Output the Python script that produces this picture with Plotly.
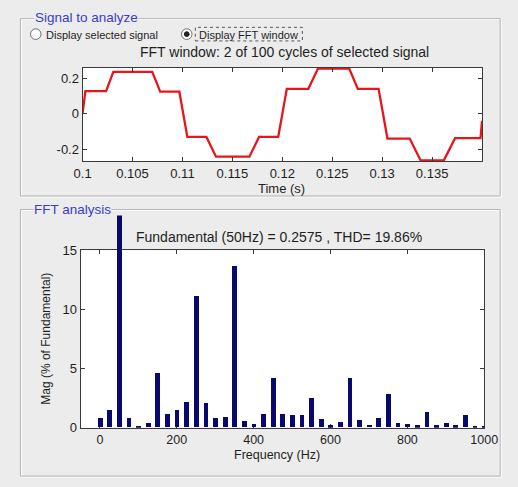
import plotly.graph_objects as go

W, H = 518, 487

# ---------------- data ----------------
# FFT window signal: breakpoints (time in s, value)
sig_time = [0.1000, 0.10028, 0.10235, 0.10308, 0.10698, 0.10777, 0.10969, 0.11049,
            0.11240, 0.11336, 0.11671, 0.11767, 0.11959, 0.12045, 0.12261, 0.12357,
            0.12670, 0.12756, 0.12964, 0.13053, 0.13276, 0.13385, 0.13618, 0.13730,
            0.13985, 0.14000]
sig_value = [0.000, 0.127, 0.127, 0.236, 0.236, 0.124, 0.124, -0.131,
             -0.131, -0.242, -0.242, -0.131, -0.131, 0.140, 0.140, 0.254,
             0.254, 0.140, 0.140, -0.140, -0.140, -0.263, -0.263, -0.138,
             -0.138, -0.040]

# FFT spectrum: harmonic frequency (Hz) and magnitude (% of fundamental)
freq_hz = [0, 25, 50, 75, 100, 125, 150, 175, 200, 225, 250, 275, 300, 325, 350,
           375, 400, 425, 450, 475, 500, 525, 550, 575, 600, 625, 650, 675, 700,
           725, 750, 775, 800, 825, 850, 875, 900, 925, 950, 975, 1000]
mag_pct = [0.76, 1.49, 100.0, 0.76, 0.08, 0.35, 4.54, 1.16, 1.43, 2.10, 11.08, 2.03,
           0.76, 0.89, 13.60, 0.54, 0.27, 1.16, 4.19, 1.16, 1.00, 1.05, 2.51, 0.68,
           0.15, 0.41, 4.19, 0.62, 0.22, 0.76, 2.84, 0.35, 0.27, 0.16, 1.30, 0.16,
           0.35, 0.16, 1.00, 0.08, 0.05]

top_xticks = [0.1, 0.105, 0.11, 0.115, 0.12, 0.125, 0.13, 0.135]
top_xticklabels = ["0.1", "0.105", "0.11", "0.115", "0.12", "0.125", "0.13", "0.135"]
top_yticks = [-0.2, 0, 0.2]
top_yticklabels = ["-0.2", "0", "0.2"]
bot_xticks = [0, 200, 400, 600, 800, 1000]
bot_yticks = [0, 5, 10, 15]

title_top = "FFT window: 2 of 100 cycles of selected signal"
title_bot = "Fundamental (50Hz) = 0.2575 , THD= 19.86%"

# ---------------- helpers ----------------
def px(x):
    return x / W

def py(y):
    return 1 - y / H

FONT = "Liberation Sans, Arial, sans-serif"
BG = "#ececec"
AX = "#3a3a3a"
TXT = "#1e1e1e"
PANEL_TITLE = "#3b3bc8"

fig = go.Figure()

fig.add_trace(go.Scatter(
    x=sig_time, y=sig_value, mode="lines",
    line=dict(color="#e8151b", width=2.3),
    xaxis="x", yaxis="y", hoverinfo="skip", showlegend=False))

# empty trace so the visible bottom axes (x2/y2) form a subplot
fig.add_trace(go.Scatter(x=[None], y=[None], mode="markers",
                         xaxis="x2", yaxis="y2", hoverinfo="skip", showlegend=False))

fig.add_trace(go.Bar(
    x=freq_hz, y=mag_pct, width=12.5,
    marker=dict(color="#08086e", line=dict(width=0)),
    xaxis="x2", yaxis="y3", hoverinfo="skip", showlegend=False))

def axis_style(size):
    return dict(showline=True, linecolor=AX, linewidth=1, mirror="ticks",
                ticks="inside", ticklen=4, tickcolor=AX, showgrid=False,
                zeroline=False, tickfont=dict(family=FONT, size=size, color=TXT),
                fixedrange=True)

# axes geometry (pixels)
top_l, top_r, top_t, top_b = 77, 495, 63, 159
bot_l, bot_r, bot_t, bot_b = 75, 497.3, 250.7, 434
bar_clip_top = 215
y_max = 15
y3_max = y_max * (bot_b - bar_clip_top) / (bot_b - bot_t)

fig.update_layout(
    width=W, height=H,
    margin=dict(l=0, r=0, t=0, b=0),
    paper_bgcolor=BG, plot_bgcolor="rgba(0,0,0,0)",
    font=dict(family=FONT, size=13, color=TXT),
    bargap=0,
    xaxis=dict(domain=[px(top_l), px(top_r)], anchor="y", range=[0.1, 0.14],
               tickvals=top_xticks, ticktext=top_xticklabels, **axis_style(13)),
    yaxis=dict(domain=[py(top_b), py(top_t)], anchor="x", range=[-0.267, 0.257],
               tickvals=top_yticks, ticktext=top_yticklabels, **axis_style(13)),
    xaxis2=dict(domain=[px(bot_l), px(bot_r)], anchor="y2", range=[-50, 1000],
                tickvals=bot_xticks, **axis_style(12.5)),
    yaxis2=dict(domain=[py(bot_b), py(bot_t)], anchor="x2", range=[0, y_max],
                tickvals=bot_yticks, **axis_style(13)),
    yaxis3=dict(domain=[py(bot_b), py(bar_clip_top)], anchor="x2", range=[0, y3_max],
                visible=False, fixedrange=True),
)

shapes = []
# white plotting areas
for xr, yr in (("x", "y"), ("x2", "y2")):
    shapes.append(dict(type="rect", xref=f"{xr} domain", yref=f"{yr} domain",
                       x0=0, x1=1, y0=0, y1=1, fillcolor="white",
                       line=dict(width=0), layer="below"))

# etched panel frames
def frame(x0, y0, x1, y1):
    for off, col in ((1, "#ffffff"), (0, "#b4b4b4")):
        shapes.append(dict(type="rect", xref="paper", yref="paper",
                           x0=px(x0 + off), x1=px(x1 + off),
                           y0=py(y1 + off), y1=py(y0 + off),
                           line=dict(color=col, width=1), fillcolor="rgba(0,0,0,0)",
                           layer="below"))

frame(12, 12, 514, 195)
frame(12, 209, 514, 484)

# radio buttons
def circle(cx, cy, r, fill, line_col):
    shapes.append(dict(type="circle", xref="paper", yref="paper",
                       x0=px(cx - r), x1=px(cx + r), y0=py(cy + r), y1=py(cy - r),
                       fillcolor=fill, line=dict(color=line_col, width=1)))

circle(28, 28, 5.5, "white", "#6e6e6e")
circle(186, 28, 5.5, "white", "#6e6e6e")
circle(186, 28, 2.5, "#202020", "#202020")
# focus rectangle around selected option
shapes.append(dict(type="rect", xref="paper", yref="paper",
                   x0=px(195), x1=px(307), y0=py(35), y1=py(21),
                   line=dict(color="#555555", width=1, dash="dot")))

fig.update_layout(shapes=shapes)

def ann(text, x, y, size=13, color=TXT, xanchor="center", angle=0, bg=None):
    d = dict(text=text, x=px(x), y=py(y), xref="paper", yref="paper",
             xanchor=xanchor, yanchor="middle", showarrow=False, textangle=angle,
             font=dict(family=FONT, size=size, color=color))
    if bg:
        d["bgcolor"] = bg
        d["borderpad"] = 0
    fig.add_annotation(**d)

ann("Signal to analyze", 26, 11, size=13.5, color=PANEL_TITLE, xanchor="left", bg=BG)
ann("FFT analysis", 25, 209, size=13.5, color=PANEL_TITLE, xanchor="left", bg=BG)
ann("Display selected signal", 37, 28.5, size=11, xanchor="left")
ann("Display FFT window", 197, 28.5, size=11, xanchor="left")
ann(title_top, 288, 46, size=14)
ann("Time (s)", 285, 187, size=13)
ann(title_bot, 283, 237, size=14)
ann("Frequency (Hz)", 280, 462.5, size=12.5)
ann("Mag (% of Fundamental)", 39, 342, size=12, angle=-90)

fig.write_html(
    "out.html",
    config={"displayModeBar": False},
    post_script="document.body.style.margin='0';document.body.style.overflow='hidden';",
)
